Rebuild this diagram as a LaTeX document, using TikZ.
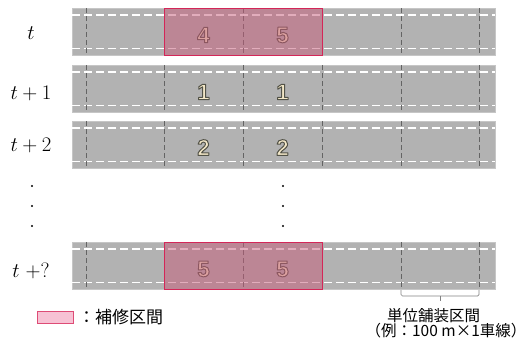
\documentclass[tikz,border=0pt]{standalone}
\usepackage{fontspec}
\newfontfamily\numfont{Liberation Sans Bold}
\newfontfamily\jpfont{Noto Sans CJK JP}
\definecolor{roadgray}{RGB}{178,178,178}
\definecolor{roadedge}{RGB}{198,198,198}
\definecolor{segdark}{RGB}{100,100,100}
\definecolor{repairpink}{RGB}{198,92,122}
\definecolor{repairedge}{RGB}{212,38,88}
\definecolor{numfill}{RGB}{242,230,198}
\definecolor{legfill}{RGB}{247,194,212}
\definecolor{legedge}{RGB}{222,76,118}
\definecolor{brkgray}{RGB}{130,130,130}
% outlined digit: fill in current colour, stroke in dark grey
\newcommand{\outdigit}[1]{\special{pdf:code 2 Tr 1.0 w 1 j 0.32 0.32 0.28 RG}#1\special{pdf:code 0 Tr}}
\begin{document}
\begin{tikzpicture}[x=1pt,y=-1pt,
  road/.style={fill=roadgray, draw=roadedge, line width=0.6pt},
  lane/.style={draw=white, line width=1.2pt, dash pattern=on 8pt off 4pt},
  seg/.style={draw=segdark, line width=0.8pt, dash pattern=on 5pt off 3pt},
  repair/.style={fill=repairpink, fill opacity=0.5, draw=repairedge, line width=0.9pt},
  lbl/.style={anchor=base, inner sep=0pt, font=\fontsize{20.74}{25}\selectfont},
  num/.style={inner sep=0pt, text=numfill, font=\numfont\fontsize{22.5}{26}\selectfont},
  dotmark/.style={circle, fill=black, inner sep=0pt, minimum size=2.4pt},
  brk/.style={draw=brkgray, line width=0.7pt},
  jp/.style={inner sep=0pt, font=\jpfont\fontsize{15.5}{18}\selectfont}
]
\useasboundingbox (0,0) rectangle (525,349);
% roads
\foreach \tp in {8,65,121,242}{
  \path[road] (72,\tp) rectangle (495,\tp+47);
  \draw[lane] (72,\tp+7) -- (495,\tp+7);
  \draw[lane] (72,\tp+40.5) -- (495,\tp+40.5);
  \foreach \xx in {86,164,243,322,401,479}{
    \draw[seg] (\xx,\tp) -- (\xx,\tp+47);
  }
}
% numbers
\node[num] (n1a) at (203.5,35) {\outdigit{4}};
\node[num] (n1b) at (282.5,35) {\outdigit{5}};
\node[num] (n2a) at (203.5,92) {\outdigit{1}};
\node[num] (n2b) at (282.5,92) {\outdigit{1}};
\node[num] (n3a) at (203.5,147.5) {\outdigit{2}};
\node[num] (n3b) at (282.5,147.5) {\outdigit{2}};
\node[num] (n4a) at (203.5,269) {\outdigit{5}};
\node[num] (n4b) at (282.5,269) {\outdigit{5}};
% repair overlays
\path[repair] (164,8) rectangle (322,55);
\path[repair] (164,242) rectangle (322,289);
% time labels
\node[lbl] (l1) at (31,39) {$t$};
\node[lbl] (l2) at (31,99) {$t+1$};
\node[lbl] (l3) at (31,151) {$t+2$};
\node[lbl] (l4) at (31,277) {$t\;{+}$?};
% dots
\foreach \yy [count=\i] in {186,206,226}{
  \node[dotmark] (dl\i) at (32,\yy) {};
  \node[dotmark] (dm\i) at (283,\yy) {};
}
% bracket
\draw[brk, rounded corners=1.5pt] (401,290) -- (401,296) -- (479,296) -- (479,290);
\coordinate (brkmid) at (440,296);
\coordinate (brkend) at (440,301);
\draw[brk] (brkmid) -- (brkend);
\node[jp] (unit1) at (433.5,315.5) {単位舗装区間};
\node[jp] (unit2) at (446,331) {（例：100 m×1車線）};
% legend
\node[draw=legedge, fill=legfill, line width=0.8pt, minimum width=36pt, minimum height=12pt, inner sep=0pt] (leg) at (55,317) {};
\node[jp, anchor=west, font=\jpfont\fontsize{17}{19}\selectfont] (legtxt) at (78,317) {：補修区間};
\end{tikzpicture}
\end{document}
